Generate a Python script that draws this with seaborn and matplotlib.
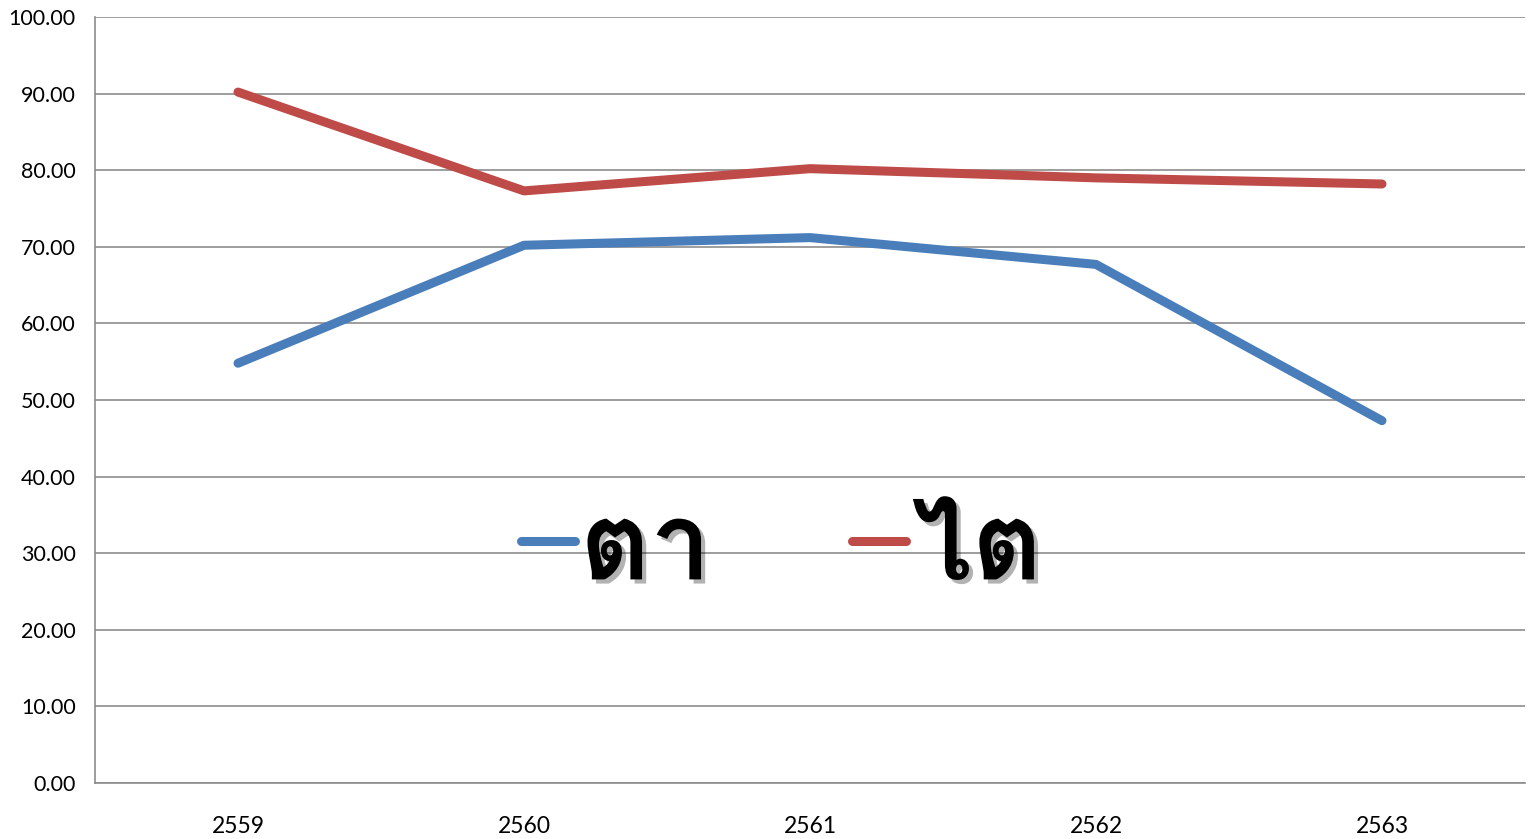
import matplotlib
matplotlib.use("Agg")
import matplotlib.pyplot as plt
import matplotlib.patheffects as pe
from matplotlib import font_manager
import seaborn as sns
import pandas as pd

years = ["2559", "2560", "2561", "2562", "2563"]
ta_values = [54.8, 70.2, 71.2, 67.7, 47.3]
tai_values = [90.2, 77.3, 80.2, 79.0, 78.2]
series_names = ["ตา", "ไต"]
series_colors = ["#4a7ebb", "#be4b48"]

df = pd.DataFrame({
    "year": years * 2,
    "value": ta_values + tai_values,
    "series": [series_names[0]] * len(years) + [series_names[1]] * len(years),
})

sns.set_theme(style="white")
plt.rcParams["font.family"] = ["Lato", "DejaVu Sans"]
plt.rcParams["text.color"] = "black"

# pick a family that has Thai glyphs for the legend
thai_family = ["DejaVu Sans"]
for f in font_manager.fontManager.ttflist:
    if "Thai" in f.name or "Loma" in f.name or "Garuda" in f.name:
        thai_family = [f.name, "DejaVu Sans"]
        break

fig = plt.figure(figsize=(15.29, 8.39), dpi=100)
ax = fig.add_axes([95 / 1529, 1 - 783 / 839, (1525 - 95) / 1529, (783 - 17) / 839])

sns.lineplot(data=df, x="year", y="value", hue="series", palette=series_colors,
             linewidth=6.5, sort=False, ax=ax, legend=True)
for ln in ax.lines:
    ln.set_solid_capstyle("round")
    ln.set_solid_joinstyle("round")

ax.set_xlim(-0.5, len(years) - 0.5)
ax.set_ylim(0, 100)
ax.set_yticks(range(0, 101, 10))
ax.set_yticklabels([f"{v:.2f}" for v in range(0, 101, 10)])
ax.set_xticks(range(len(years)))
ax.set_xticklabels(years)
ax.set_xticks([i - 0.5 for i in range(len(years) + 1)], minor=True)
ax.tick_params(axis="x", which="major", length=0, pad=24, labelsize=16.5, colors="black")
ax.tick_params(axis="x", which="minor", length=7, width=1.2, color="#8c8c8c", direction="out")
ax.tick_params(axis="y", length=7, width=1.2, color="#8c8c8c", direction="out",
               labelsize=15.5, pad=7, labelcolor="black")
ax.set_xlabel("")
ax.set_ylabel("")
ax.grid(axis="y", color="#8c8c8c", linewidth=1.2)
ax.set_axisbelow(True)
for s in ["top", "right"]:
    ax.spines[s].set_visible(False)
for s in ["left", "bottom"]:
    ax.spines[s].set_color("#8c8c8c")
    ax.spines[s].set_linewidth(1.2)

handles, labels = ax.get_legend_handles_labels()
leg = ax.legend(handles, labels, loc="center", bbox_to_anchor=(0.48, 0.303),
                ncol=2, frameon=False, handlelength=0.5,
                handletextpad=0.05, columnspacing=1.3,
                prop={"family": thai_family, "size": 78, "weight": "bold"})
for h in leg.get_lines():
    h.set_linewidth(6.5)
    h.set_solid_capstyle("round")
for t in leg.get_texts():
    t.set_color("black")
    t.set_path_effects([pe.SimplePatchShadow(offset=(3, -3), alpha=0.3, shadow_rgbFace="black"),
                        pe.Normal()])

fig.savefig("out.png", dpi=100)
